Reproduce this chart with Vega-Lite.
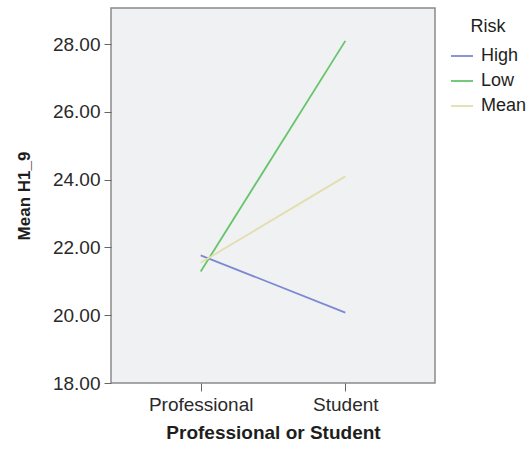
{
  "$schema": "https://vega.github.io/schema/vega-lite/v6.json",
  "autosize": {"type": "none"},
  "padding": {"left": 111, "top": 8, "right": 97, "bottom": 66},
  "width": 324,
  "height": 375,
  "background": "white",
  "config": {
    "font": "Liberation Sans",
    "view": {"fill": "#F0F1F3", "stroke": "#8A8A8A", "strokeWidth": 1.5},
    "axis": {
      "labelFont": "Liberation Sans",
      "titleFont": "Liberation Sans",
      "labelColor": "#2A2A2A",
      "titleColor": "#1E1E1E",
      "tickColor": "#666666",
      "grid": false,
      "domain": false
    }
  },
  "data": {
    "values": [
      {"group": "Professional", "risk": "High", "mean": 21.77},
      {"group": "Student", "risk": "High", "mean": 20.08},
      {"group": "Professional", "risk": "Low", "mean": 21.29},
      {"group": "Student", "risk": "Low", "mean": 28.1},
      {"group": "Professional", "risk": "Mean", "mean": 21.55},
      {"group": "Student", "risk": "Mean", "mean": 24.1}
    ]
  },
  "mark": {"type": "line", "strokeWidth": 1.8},
  "encoding": {
    "x": {
      "field": "group",
      "type": "nominal",
      "sort": ["Professional", "Student"],
      "scale": {"type": "point", "padding": 0.62},
      "axis": {
        "title": "Professional or Student",
        "labelAngle": 0,
        "labelFontSize": 19,
        "titleFontSize": 19,
        "titleFontWeight": "bold",
        "tickSize": 8,
        "labelPadding": 4,
        "titlePadding": 9
      }
    },
    "y": {
      "field": "mean",
      "type": "quantitative",
      "scale": {"domain": [18, 29.07], "nice": false, "zero": false},
      "axis": {
        "title": "Mean H1_9",
        "values": [18, 20, 22, 24, 26, 28],
        "format": ".2f",
        "labelFontSize": 19,
        "titleFontSize": 17,
        "titleFontWeight": "bold",
        "tickSize": 7,
        "labelPadding": 4,
        "titlePadding": 19
      }
    },
    "color": {
      "field": "risk",
      "type": "nominal",
      "scale": {"domain": ["High", "Low", "Mean"], "range": ["#7C88D2", "#66C46A", "#E2DEAE"]},
      "legend": {
        "title": "Risk",
        "orient": "none",
        "legendX": 339,
        "legendY": 10,
        "titleFontSize": 18,
        "titleFontWeight": "normal",
        "titleColor": "#1E1E1E",
        "titleAnchor": "middle",
        "titlePadding": 8,
        "labelFontSize": 18,
        "labelColor": "#1E1E1E",
        "symbolType": "stroke",
        "symbolSize": 484,
        "symbolStrokeWidth": 1.8,
        "rowPadding": 4,
        "labelOffset": 7
      }
    }
  }
}
